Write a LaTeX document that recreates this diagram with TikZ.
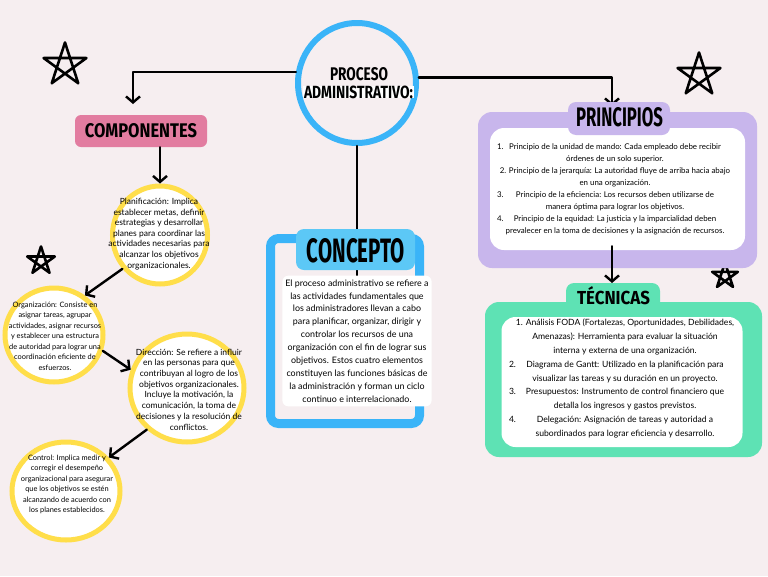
\documentclass[tikz,border=0pt]{standalone}
\usepackage{fontspec}
\setmainfont{Lato}
\newfontfamily\titlefont{Fira Sans}
\usetikzlibrary{arrows.meta,shapes.geometric,calc}
\definecolor{bg}{RGB}{246,238,240}
\definecolor{cblue}{RGB}{58,180,248}
\definecolor{tabblue}{RGB}{92,200,246}
\definecolor{cpink}{RGB}{226,124,160}
\definecolor{clav}{RGB}{200,182,236}
\definecolor{cgreen}{RGB}{94,226,180}
\definecolor{cyel}{RGB}{255,222,74}
\newcommand{\ttl}[3]{\resizebox{#1pt}{#2pt}{\titlefont\bfseries #3}}
\newcommand{\nline}[3]{\hbox to #1pt{\rlap{#2}\hfill #3\hfill}}
\newcommand{\hstar}[3]{\draw[starline,shift={(#1,#2)}] (-90:#3) -- (126:#3) -- (-18:#3) -- (-162:#3) -- (54:#3) -- cycle;}
\begin{document}
\begin{tikzpicture}[x=1pt,y=-1pt,
  arr/.style={line width=2.4, -{Straight Barb[length=6pt,width=14pt]}, line cap=round, line join=round},
  plain/.style={line width=2.4, line cap=round},
  bubble/.style={ellipse, draw=cyel, line width=5, fill=white, inner sep=0},
  btext/.style={align=center, font=\fontsize{7.4}{10.5}\selectfont, inner sep=0},
  starline/.style={line width=2.6, line join=round, line cap=round},
  ttlnode/.style={inner sep=0, outer sep=0}]
\fill[bg] (0,0) rectangle (768,576);
\useasboundingbox (0,0) rectangle (768,576);

% stars
\hstar{65}{65}{22.5}
\hstar{699}{75}{22.5}
\hstar{41}{261}{14.5}
\hstar{725}{276}{13.5}

% central circle
\node[ellipse, draw=cblue, line width=6, minimum width=118, minimum height=120, inner sep=0] (pa) at (357,83) {};
\node[ttlnode] (pat1) at (359,74) {\ttl{58}{13}{PROCESO}};
\node[ttlnode, fill=white, inner xsep=1, inner ysep=0] (pat2) at (358.5,92) {\ttl{109}{12.5}{ADMINISTRATIVO:}};

% COMPONENTES
\node[fill=cpink, rounded corners=6, minimum width=132, minimum height=32, inner sep=0] (comp) at (141,131) {};
\node[ttlnode] (compt) at (141,131) {\ttl{112}{14}{COMPONENTES}};

% connectors from central circle
\coordinate (cl) at (133,104);
\coordinate (cr) at (612,106);
\draw[arr] (pa.170) -| (cl);
\draw[arr] (pa.5) -| (cr);
\draw[plain] (pa.south) -- (357,280);

% bubbles
\node[bubble, minimum width=95, minimum height=98] (plan) at (160,235) {};
\node[bubble, minimum width=98, minimum height=94] (org) at (54,335) {};
\node[bubble, minimum width=114, minimum height=108] (dir) at (187,388) {};
\node[bubble, minimum width=108, minimum height=98] (ctrl) at (66,491) {};

\node[btext, font=\fontsize{8.5}{10.6}\selectfont] (plant) at (159,234) {Planificación: Implica\\establecer metas, definir\\estrategias y desarrollar\\planes para coordinar las\\actividades necesarias para\\alcanzar los objetivos\\organizacionales.};
\node[btext] (orgt) at (55,336) {Organización: Consiste en\\asignar tareas, agrupar\\actividades, asignar recursos\\y establecer una estructura\\de autoridad para lograr una\\coordinación eficiente de\\esfuerzos.};
\node[btext, font=\fontsize{8.5}{10.7}\selectfont] (dirt) at (189,389.5) {Dirección: Se refiere a influir\\en las personas para que\\contribuyan al logro de los\\objetivos organizacionales.\\Incluye la motivación, la\\comunicación, la toma de\\decisiones y la resolución de\\conflictos.};
\node[btext] (ctrlt) at (67,484.5) {Control: Implica medir y\\corregir el desempeño\\organizacional para asegurar\\que los objetivos se estén\\alcanzando de acuerdo con\\los planes establecidos.};

\draw[arr] (comp.south -| plan.north) -- (plan.north);
\draw[arr] (plan.222) -- (org.52);
\draw[arr] (org.-18) -- (dir.162);
\draw[arr] (dir.226) -- (ctrl.38);

% CONCEPTO
\node[draw=cblue, line width=9, rounded corners=8, minimum width=149, minimum height=185, inner sep=0] (concepto) at (345,331) {};
\node[fill=tabblue, rounded corners=8, minimum width=119, minimum height=41, inner sep=0] (conctab) at (355.5,249.5) {};
\node[ttlnode] (conct) at (356,251) {\ttl{98}{24}{CONCEPTO}};
\node[fill=white, rounded corners=6, align=center, inner xsep=3, inner ysep=4, font=\fontsize{8.9}{12.9}\selectfont] (conctext) at (357,341) {El proceso administrativo se refiere a\\las actividades fundamentales que\\los administradores llevan a cabo\\para planificar, organizar, dirigir y\\controlar los recursos de una\\organización con el fin de lograr sus\\objetivos. Estos cuatro elementos\\constituyen las funciones básicas de\\la administración y forman un ciclo\\continuo e interrelacionado.};

% PRINCIPIOS
\node[fill=clav, rounded corners=14, minimum width=279, minimum height=156, inner sep=0] (principios) at (617.5,190) {};
\node[fill=white, rounded corners=14, minimum width=255, minimum height=122, inner sep=0] (princin) at (617.5,189) {};
\node[align=center, inner sep=0, font=\fontsize{7.9}{12}\selectfont] (princtext) at (615,189.5) {\nline{236}{1.}{Principio de la unidad de mando: Cada empleado debe recibir}\\órdenes de un solo superior.\\2. Principio de la jerarquía: La autoridad fluye de arriba hacia abajo\\en una organización.\\\nline{236}{3.}{Principio de la eficiencia: Los recursos deben utilizarse de}\\manera óptima para lograr los objetivos.\\\nline{236}{4.}{Principio de la equidad: La justicia y la imparcialidad deben}\\prevalecer en la toma de decisiones y la asignación de recursos.};
\node[fill=clav, rounded corners=8, minimum width=102, minimum height=33, inner sep=0] (princtab) at (619,118.5) {};
\node[ttlnode] (princt) at (619.5,117.5) {\ttl{87}{19}{PRINCIPIOS}};

% TECNICAS
\coordinate (ct) at (612,283);
\draw[arr] (principios.south -| ct) ++(0,-22) -- (ct);
\node[fill=cgreen, rounded corners=14, minimum width=277, minimum height=155, inner sep=0] (tecnicas) at (623.5,379.5) {};
\node[fill=white, rounded corners=14, minimum width=241, minimum height=130, inner sep=0] (tecin) at (622,382) {};
\node[align=center, inner sep=0, font=\fontsize{8.6}{13.9}\selectfont] (tectext) at (625,378.5) {1. Análisis FODA (Fortalezas, Oportunidades, Debilidades,\\Amenazas): Herramienta para evaluar la situación\\interna y externa de una organización.\\\nline{232}{2.}{Diagrama de Gantt: Utilizado en la planificación para}\\visualizar las tareas y su duración en un proyecto.\\\nline{232}{3.}{Presupuestos: Instrumento de control financiero que}\\detalla los ingresos y gastos previstos.\\\nline{232}{4.}{Delegación: Asignación de tareas y autoridad a}\\subordinados para lograr eficiencia y desarrollo.};
\node[fill=cgreen, rounded corners=8, minimum width=94, minimum height=27, inner sep=0] (tectab) at (613,296.5) {};
\node[ttlnode] (tect) at (613.5,296) {\ttl{73}{18}{TÉCNICAS}};
\end{tikzpicture}
\end{document}
